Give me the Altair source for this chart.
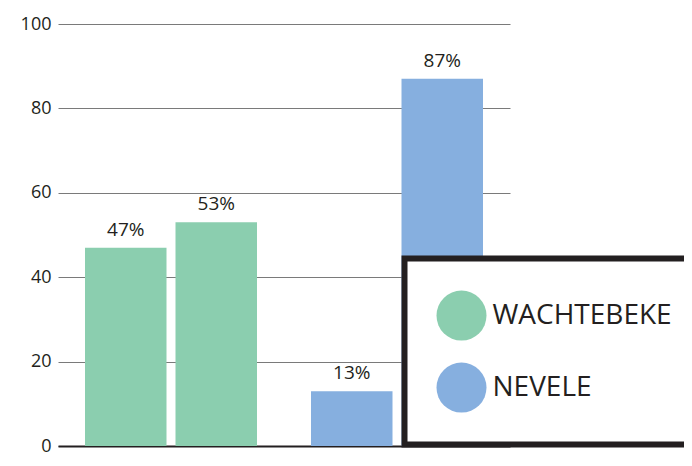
import altair as alt
import pandas as pd

groups = ["WACHTEBEKE", "WACHTEBEKE", "NEVELE", "NEVELE"]
subs = ["a", "b", "a", "b"]
values = [47, 53, 13, 87]
labels = ["47%", "53%", "13%", "87%"]
group_order = ["WACHTEBEKE", "NEVELE"]
colors = ["#8BCEAF", "#86AFDF"]
y_ticks = [0, 20, 40, 60, 80, 100]

df = pd.DataFrame({"group": groups, "sub": subs, "value": values, "label": labels})

FONT = "Open Sans"
TXT = "#231f20"

x = alt.X(
    "group:N",
    sort=group_order,
    scale=alt.Scale(paddingInner=54 / 226, paddingOuter=27 / 226),
    axis=alt.Axis(labels=False, ticks=False, title=None, grid=False,
                  domain=True, domainColor=TXT, domainWidth=2),
)
xo = alt.XOffset("sub:N", scale=alt.Scale(paddingInner=9 / 90.5, paddingOuter=0))
y = alt.Y(
    "value:Q",
    scale=alt.Scale(domain=[0, 100]),
    axis=alt.Axis(values=y_ticks, grid=True, gridColor="#7a7a7a", gridWidth=1,
                  domain=False, ticks=False, tickSize=0, labelFontSize=18,
                  labelPadding=7, labelColor=TXT, labelFont=FONT, title=None),
)

bars = alt.Chart(df).mark_bar().encode(
    x=x,
    xOffset=xo,
    y=y,
    color=alt.Color(
        "group:N",
        sort=group_order,
        scale=alt.Scale(domain=group_order, range=colors),
        legend=alt.Legend(
            orient="none", legendX=346.5, legendY=234.6, title=None,
            symbolType="circle", symbolSize=2500, symbolStrokeWidth=0,
            symbolOpacity=1, labelFontSize=28, labelFont=FONT, labelColor=TXT,
            labelOffset=6, rowPadding=22, padding=32, strokeColor=TXT,
            fillColor="white", zindex=1, labelLimit=500,
        ),
    ),
)

text = alt.Chart(df).mark_text(
    baseline="alphabetic", dy=-12, fontSize=19, font=FONT, color=TXT
).encode(x=x, xOffset=xo, y=y, text="label:N")

chart = (
    alt.layer(bars, text)
    .properties(
        width=452, height=422,
        autosize=alt.AutoSizeParams(type="none"),
        padding={"left": 50, "top": 16, "right": 174, "bottom": 6},
    )
    .configure_view(stroke=None)
    .configure_legend(strokeWidth=6)
)

chart.save("out.html", embed_options={"renderer": "svg", "actions": False})
